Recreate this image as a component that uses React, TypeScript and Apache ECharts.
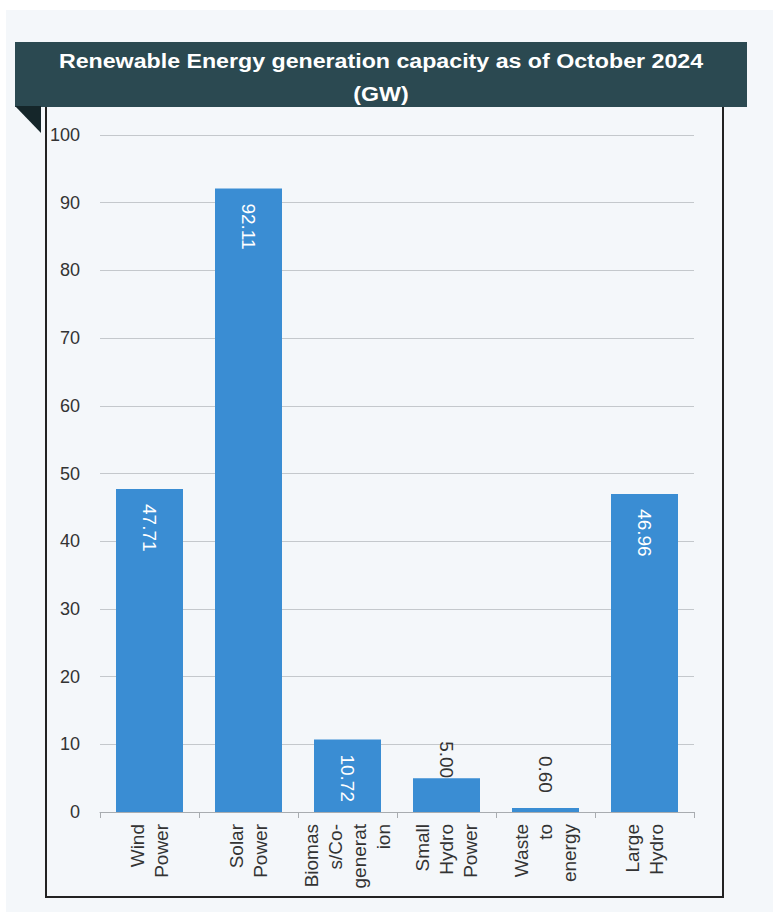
import React, { useEffect, useRef } from "react";
import * as echarts from "echarts";

const titleLines = ["Renewable Energy generation capacity as of October 2024", "(GW)"];
const categories = [
  "Wind\nPower",
  "Solar\nPower",
  "Biomas\ns/Co-\ngenerat\nion",
  "Small\nHydro\nPower",
  "Waste\nto\nenergy",
  "Large\nHydro",
];
const capacityGW = [47.71, 92.11, 10.72, 5.0, 0.6, 46.96];
const labelOutside = [false, false, false, true, true, false];
const yMin = 0;
const yMax = 100;
const yStep = 10;

const FONT = '"Liberation Sans", Arial, sans-serif';

export default function App() {
  const ref = useRef<HTMLDivElement>(null);
  useEffect(() => {
    if (!ref.current) return;
    const chart = echarts.init(ref.current, null, { renderer: "svg" });
    const fmt = (p: any) => Number(p.value).toFixed(2);
    const data = capacityGW.map((v, i) => {
      const outside = labelOutside[i];
      const smallOffset = v < 1 ? 15 : 0;
      return {
        value: v,
        label: outside
          ? {
              show: true,
              position: "top",
              distance: smallOffset,
              rotate: -90,
              align: "right",
              verticalAlign: "middle",
              color: "#333",
              fontSize: 19,
              fontFamily: FONT,
              formatter: fmt,
            }
          : {
              show: true,
              position: "insideTop",
              distance: 15,
              rotate: -90,
              align: "left",
              verticalAlign: "middle",
              color: "#ffffff",
              fontSize: 19,
              fontFamily: FONT,
              formatter: fmt,
            },
      };
    });
    chart.setOption({
      animation: false,
      backgroundColor: "#ffffff",
      graphic: [
        { type: "rect", z: -10, shape: { x: 6, y: 10, width: 767, height: 902 }, style: { fill: "#f4f7fa" } },
        { type: "rect", z: 10, shape: { x: 15, y: 42, width: 732, height: 65 }, style: { fill: "#2b4951" } },
        {
          type: "polygon",
          z: 10,
          shape: { points: [[15, 106], [41, 106], [41, 133]] },
          style: { fill: "#15262a" },
        },
        { type: "line", z: 10, shape: { x1: 46, y1: 107, x2: 46, y2: 897 }, style: { stroke: "#222", lineWidth: 2 } },
        { type: "line", z: 10, shape: { x1: 723, y1: 107, x2: 723, y2: 897 }, style: { stroke: "#222", lineWidth: 2 } },
        { type: "line", z: 10, shape: { x1: 45, y1: 897, x2: 724, y2: 897 }, style: { stroke: "#222", lineWidth: 2 } },
        {
          type: "text",
          z: 11,
          x: 381,
          y: 61,
          scaleX: 1.16,
          style: {
            text: titleLines[0],
            fill: "#ffffff",
            font: `bold 20px ${FONT}`,
            textAlign: "center",
            textVerticalAlign: "middle",
          },
        },
        {
          type: "text",
          z: 11,
          x: 381,
          y: 94,
          scaleX: 1.16,
          style: {
            text: titleLines[1],
            fill: "#ffffff",
            font: `bold 20px ${FONT}`,
            textAlign: "center",
            textVerticalAlign: "middle",
          },
        },
      ],
      grid: { left: 100, right: 79, top: 135, bottom: 104, containLabel: false },
      xAxis: {
        type: "category",
        data: categories,
        axisLine: { show: true, lineStyle: { color: "#a8acb0", width: 1 } },
        axisTick: { show: true, length: 6, lineStyle: { color: "#a8acb0" } },
        axisLabel: {
          rotate: 90,
          margin: 12,
          fontSize: 19,
          lineHeight: 24,
          color: "#333",
          fontFamily: FONT,
          interval: 0,
          align: "right",
          verticalAlign: "middle",
        },
      },
      yAxis: {
        type: "value",
        min: yMin,
        max: yMax,
        interval: yStep,
        axisLine: { show: false },
        axisTick: { show: false },
        splitLine: { lineStyle: { color: "#c4c8cc", width: 1 } },
        axisLabel: { margin: 20, fontSize: 18, color: "#333", fontFamily: FONT },
      },
      series: [
        {
          type: "bar",
          data,
          barWidth: 67,
          itemStyle: { color: "#3a8dd3" },
        },
      ],
    });
    return () => chart.dispose();
  }, []);
  return (
    <div style={{ position: "absolute", left: 0, top: 0, width: 773, height: 916 }}>
      <div ref={ref} style={{ width: 773, height: 916 }} />
    </div>
  );
}
